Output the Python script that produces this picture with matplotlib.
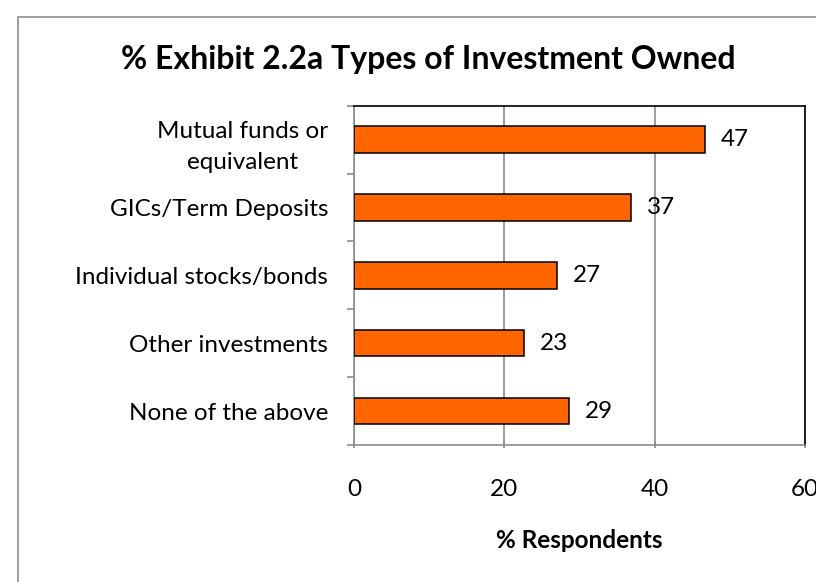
import matplotlib
matplotlib.use("Agg")
import matplotlib.pyplot as plt
from matplotlib.patches import Rectangle

plt.rcParams['font.family'] = ['Lato', 'DejaVu Sans']

categories = ["Mutual funds or\nequivalent", "GICs/Term Deposits", "Individual stocks/bonds",
              "Other investments", "None of the above"]
values = [46.6, 36.8, 27.0, 22.6, 28.6]
x_ticks = [0, 20, 40, 60]

fig = plt.figure(figsize=(8.16, 5.82), dpi=100)
# outer chart border (runs off the right and bottom edges)
fig.patches.append(Rectangle((18 / 816, -0.1), 1.2, 1.1 - 17 / 582, transform=fig.transFigure,
                             fill=False, edgecolor='#8c8c8c', linewidth=1.2))

ax = fig.add_axes([354 / 816, 137 / 582, (805.3 - 354) / 816, (445 - 105.7) / 582])
pos = list(range(len(categories)))
ax.barh(pos, values, height=0.39, color='#ff6600', edgecolor='black', linewidth=1.1, zorder=3)
for p, v in zip(pos, values):
    ax.text(v + 2.1, p, '%.0f' % v, va='center', ha='left', fontsize=17.5)

ax.set_xlim(0, 60)
ax.set_ylim(len(categories) - 0.5, -0.5)
ax.set_xticks(x_ticks)
ax.set_xticklabels([str(t) for t in x_ticks], fontsize=17.5)
ax.set_yticks(pos)
ax.set_yticklabels(categories, fontsize=17.5, multialignment='center', linespacing=1.6)
ax.set_yticks([i - 0.5 for i in range(len(categories) + 1)], minor=True)
ax.tick_params(axis='y', which='major', length=0, pad=18.5)
ax.tick_params(axis='y', which='minor', length=5, color='#8c8c8c', width=1.2, direction='out')
ax.tick_params(axis='x', length=5, color='#8c8c8c', width=1.2, direction='inout', pad=22)
ax.xaxis.grid(True, color='#8c8c8c', linewidth=1.2, zorder=0)
ax.set_axisbelow(True)
for s in ['left', 'bottom']:
    ax.spines[s].set_color('#8c8c8c')
    ax.spines[s].set_linewidth(1.2)
for s in ['top', 'right']:
    ax.spines[s].set_color('black')
    ax.spines[s].set_linewidth(1.2)
ax.set_xlabel('% Respondents', fontsize=17.5, fontweight='bold', labelpad=21)
fig.text(428 / 816, 1 - 59 / 582, '% Exhibit 2.2a Types of Investment Owned', ha='center', va='center',
         fontsize=23, fontweight='bold')

fig.savefig('out.png', dpi=100)
